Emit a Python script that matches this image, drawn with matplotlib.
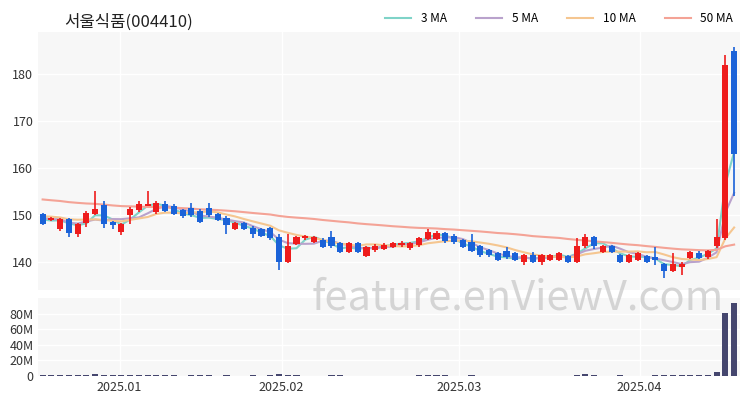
import numpy as np
import pandas as pd
import matplotlib
matplotlib.use("Agg")
import matplotlib.pyplot as plt

plt.rcParams['font.family'] = ['Noto Sans CJK KR', 'DejaVu Sans']

title = "서울식품(004410)"

# OHLC (index 0 = mid Dec 2024)
opens = [150.2, 149.0, 146.9, 149.2, 146.0, 148.2, 150.2, 152.2, 148.5, 146.3,
         149.9, 151.0, 152.0, 150.6, 152.3, 152.0, 151.0, 151.5, 150.9, 151.5,
         150.2, 149.4, 147.1, 148.2, 147.3, 147.0, 147.2, 145.3, 140.0, 143.9,
         145.0, 144.3, 144.6, 145.2, 144.0, 142.1, 144.0, 141.2, 142.5, 142.8,
         143.2, 143.5, 143.0, 143.5, 144.9, 144.9, 146.1, 145.6, 144.6, 144.2,
         143.3, 142.5, 141.8, 142.3, 141.8, 140.0, 141.4, 140.0, 140.5, 140.5,
         141.2, 140.0, 143.3, 145.3, 142.1, 143.3, 141.4, 140.0, 140.5, 141.2,
         141.0, 139.5, 138.1, 139.0, 140.9, 141.8, 141.0, 143.3, 145.0, 185.0]
closes = [148.1, 149.3, 149.2, 146.1, 148.1, 150.4, 151.3, 148.0, 147.8, 148.0,
          151.3, 152.3, 152.3, 152.6, 150.9, 150.3, 149.7, 149.9, 148.5, 149.9,
          149.0, 147.8, 148.2, 147.1, 146.0, 145.6, 145.0, 140.0, 143.4, 145.3,
          145.5, 145.2, 143.2, 143.3, 142.1, 144.0, 142.1, 143.1, 143.3, 143.6,
          144.0, 144.1, 144.0, 145.1, 146.3, 146.2, 144.4, 144.2, 143.2, 142.3,
          141.4, 141.4, 140.5, 141.0, 140.5, 141.4, 140.0, 141.4, 141.4, 141.8,
          140.0, 143.3, 145.3, 143.3, 143.3, 142.1, 140.0, 141.4, 141.8, 140.0,
          140.4, 138.1, 139.5, 139.6, 142.1, 140.9, 142.3, 145.3, 182.0, 163.0]
highs = [150.5, 149.6, 149.4, 149.4, 148.3, 150.8, 155.2, 153.0, 148.8, 148.3,
         151.6, 153.0, 155.2, 153.0, 153.0, 152.3, 151.3, 152.5, 151.2, 152.5,
         150.5, 149.7, 148.5, 148.5, 147.6, 147.3, 147.5, 146.0, 146.0, 145.6,
         145.8, 145.6, 145.0, 146.5, 144.3, 144.3, 144.3, 143.4, 143.8, 144.0,
         144.3, 144.4, 144.3, 145.4, 147.0, 146.5, 146.4, 145.9, 144.9, 146.0,
         143.6, 142.8, 142.1, 143.2, 142.1, 141.7, 142.0, 141.7, 141.7, 142.1,
         141.5, 145.0, 146.0, 145.6, 143.6, 143.6, 141.7, 141.7, 142.2, 141.5,
         143.2, 139.8, 141.8, 140.0, 142.4, 142.3, 142.6, 149.2, 184.0, 185.8]
lows = [147.8, 148.7, 146.6, 145.3, 145.3, 147.5, 150.0, 147.3, 147.1, 145.7,
        148.0, 150.7, 152.0, 150.3, 150.6, 150.0, 149.4, 149.6, 148.2, 149.6,
        148.7, 146.0, 146.8, 146.8, 145.0, 145.3, 144.7, 138.2, 139.7, 143.6,
        144.7, 144.0, 142.9, 143.0, 141.8, 141.8, 141.8, 141.0, 142.2, 142.5,
        142.9, 143.2, 142.5, 143.2, 144.6, 144.6, 144.1, 143.9, 142.9, 142.0,
        141.1, 141.1, 140.2, 140.7, 140.2, 139.3, 139.7, 139.3, 140.2, 140.2,
        139.7, 139.7, 143.0, 142.7, 141.8, 141.8, 139.7, 139.7, 140.2, 139.7,
        139.3, 136.5, 137.8, 137.2, 140.6, 140.6, 140.7, 143.0, 144.7, 154.0]
volumes = [1.5, 0.8, 1.2, 1.3, 1.0, 1.2, 2.0, 1.6, 0.8, 0.9,
           1.5, 1.0, 1.4, 1.0, 1.0, 0.7, 0.6, 0.7, 0.8, 0.7,
           0.6, 0.9, 0.6, 0.6, 0.7, 0.6, 0.8, 2.0, 1.8, 0.9,
           0.6, 0.5, 0.6, 0.7, 0.7, 0.6, 0.6, 0.5, 0.5, 0.5,
           0.5, 0.5, 0.5, 0.7, 1.0, 0.8, 0.7, 0.6, 0.6, 0.8,
           0.6, 0.5, 0.5, 0.5, 0.5, 0.5, 0.5, 0.5, 0.5, 0.5,
           0.5, 1.5, 2.0, 1.2, 0.6, 0.6, 0.7, 0.6, 0.6, 0.6,
           1.0, 1.5, 1.2, 0.8, 1.0, 0.8, 1.5, 5.0, 81.0, 94.0]
# closes before the visible window, used only for the moving averages
prior_closes = [158, 157, 158, 156, 157, 155, 156, 157, 155, 154,
                155, 156, 154, 155, 153, 154, 155, 156, 154, 153,
                154, 155, 156, 155, 154, 153, 155, 154, 153, 152,
                153, 154, 152, 151, 152, 153, 151, 150, 151, 152,
                150, 151, 150, 149, 150, 151, 149, 150, 149]

tick_pos = [8.8, 27.3, 47.6, 68.2]
tick_labels = ["2025.01", "2025.02", "2025.03", "2025.04"]

ma_windows = [3, 5, 10, 50]
ma_colors = ["#7fd3c8", "#b9a2cc", "#f5c690", "#f4a396"]

up_color = "#ee1c1c"
down_color = "#1a62d8"

n = len(closes)
x = np.arange(n)
all_close = pd.Series(prior_closes + closes)

fig = plt.figure(figsize=(7.5, 4), dpi=100)
ax = fig.add_axes([0.051, 0.275, 0.936, 0.645])
axv = fig.add_axes([0.051, 0.06, 0.936, 0.195], sharex=ax)

for a in (ax, axv):
    a.set_facecolor("#f7f7f7")
    a.grid(True, color="white", linewidth=1)
    a.set_axisbelow(True)
    for s in a.spines.values():
        s.set_visible(False)
    a.tick_params(length=0, labelsize=9, colors="#333333")

for w, c in zip(ma_windows, ma_colors):
    ma = all_close.rolling(w, min_periods=1).mean().values[len(prior_closes):]
    ax.plot(x, ma, color=c, linewidth=1.5, label=f"{w} MA", zorder=2)

for i in range(n):
    col = up_color if closes[i] >= opens[i] else down_color
    ax.vlines(x[i], lows[i], highs[i], color=col, linewidth=1.2, zorder=3)
    lo, hi = sorted([opens[i], closes[i]])
    ax.bar(x[i], max(hi - lo, 0.25), bottom=lo, width=0.7, color=col, zorder=3)

ax.set_ylim(134, 189)
ax.set_yticks([140, 150, 160, 170, 180])
ax.set_xlim(-0.5, n - 0.3)
plt.setp(ax.get_xticklabels(), visible=False)

axv.bar(x, volumes, width=0.7, color="#45466e")
axv.set_ylim(0, 100)
axv.set_yticks([0, 20, 40, 60, 80])
axv.set_yticklabels(["0", "20M", "40M", "60M", "80M"])
axv.set_xticks(tick_pos)
axv.set_xticklabels(tick_labels)

fig.text(0.085, 0.945, title, fontsize=12, color="#222222", va="center")
ax.legend(loc="lower right", bbox_to_anchor=(1.0, 1.0), ncol=4, frameon=False,
          fontsize=8.5, handlelength=2.2, columnspacing=2.5, borderaxespad=0.2)
fig.text(0.69, 0.255, "feature.enViewV.com", fontsize=30, color="#cccccc",
         alpha=0.8, ha="center", va="center", zorder=10)

fig.savefig("out.png")
